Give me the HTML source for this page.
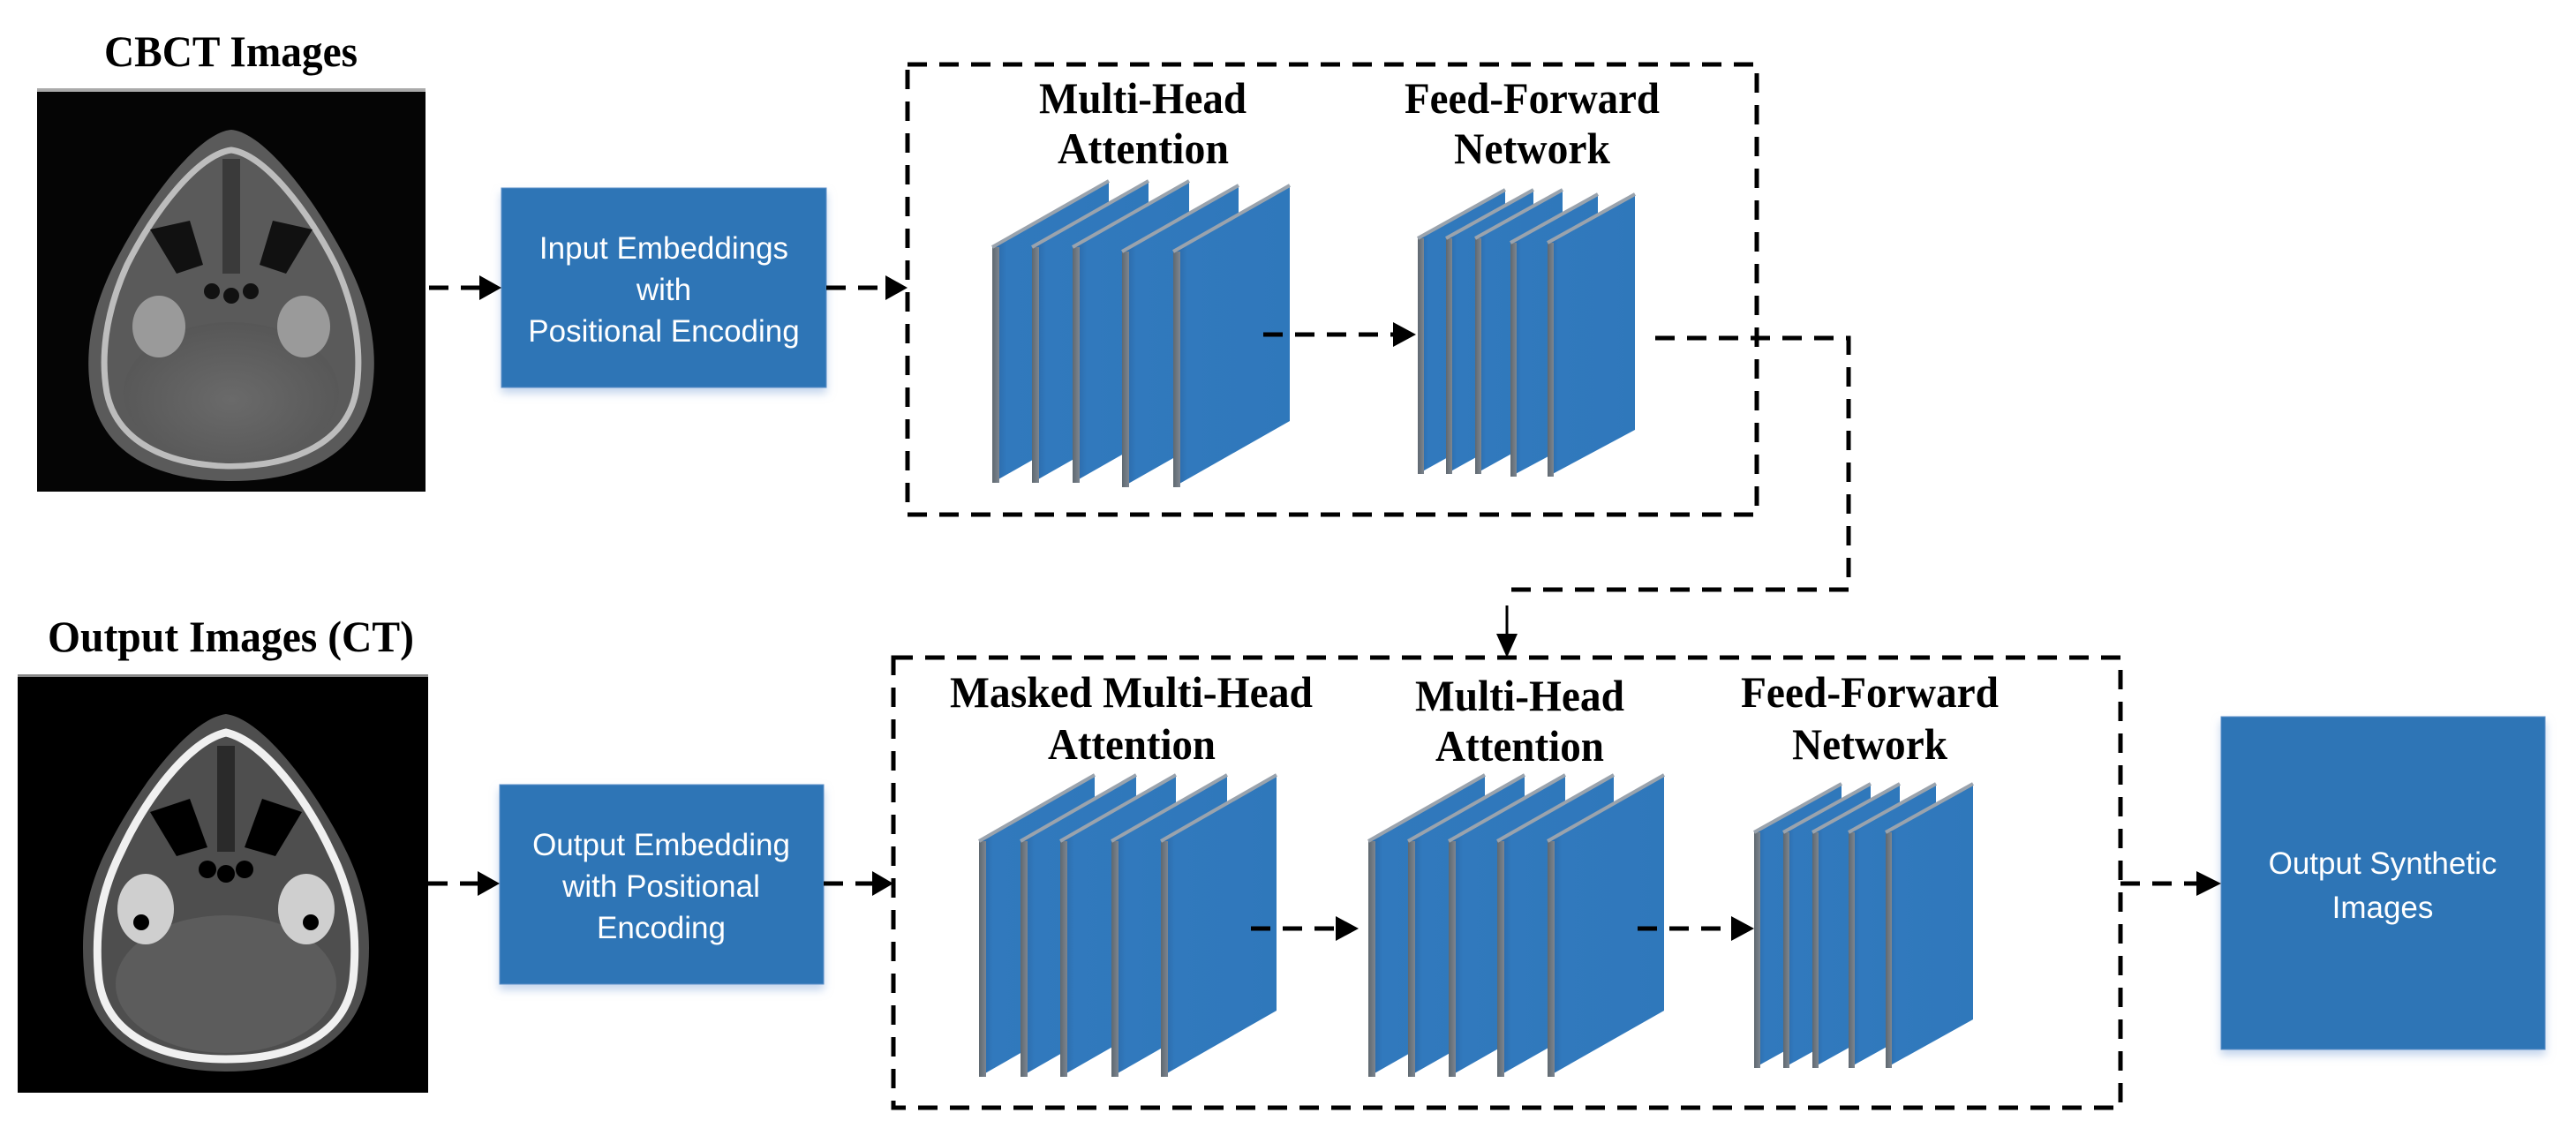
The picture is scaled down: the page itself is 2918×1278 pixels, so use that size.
<!DOCTYPE html>
<html><head><meta charset="utf-8"><style>
html,body{margin:0;padding:0;background:#fff;}
svg{display:block;}
.t{font-family:"Liberation Serif",serif;font-weight:bold;font-size:50px;fill:#000;}
.w{font-family:"Liberation Sans",sans-serif;font-size:35px;fill:#fff;text-anchor:middle;}
.d{stroke:#000;stroke-width:5;fill:none;stroke-dasharray:22 14;}
</style></head><body>
<svg width="2918" height="1278" viewBox="0 0 2918 1278" xmlns="http://www.w3.org/2000/svg">
<defs>
<linearGradient id="face" x1="0" y1="0" x2="1" y2="0">
<stop offset="0" stop-color="#2a64a0"/><stop offset="0.12" stop-color="#3179bd"/><stop offset="1" stop-color="#2f78bb"/>
</linearGradient>
<linearGradient id="edge" x1="0" y1="0" x2="1" y2="0">
<stop offset="0" stop-color="#5f6870"/><stop offset="1" stop-color="#7d8690"/>
</linearGradient>
<filter id="sh" x="-10%" y="-10%" width="120%" height="130%"><feDropShadow dx="0" dy="6" stdDeviation="5" flood-color="#9bb8e0" flood-opacity="0.6"/></filter>
<radialGradient id="brain" cx="0.5" cy="0.55" r="0.6"><stop offset="0" stop-color="#6a6a6a"/><stop offset="1" stop-color="#555"/></radialGradient>
</defs>

<!-- Titles -->
<text class="t" x="118" y="75" textLength="287" lengthAdjust="spacingAndGlyphs">CBCT Images</text>
<text class="t" x="54" y="738" textLength="415" lengthAdjust="spacingAndGlyphs">Output Images (CT)</text>

<!-- CBCT image -->
<rect x="42" y="100" width="440" height="457" fill="#050505"/>
<rect x="42" y="100" width="440" height="4" fill="#aaa"/>
<g>
<path d="M262,147 C300,150 360,230 395,300 C425,360 428,410 420,450 C405,515 345,545 262,545 C179,545 119,515 104,450 C96,410 99,360 129,300 C164,230 224,150 262,147z" fill="#5a5a5a"/>
<path d="M262,170 C300,175 350,240 380,300 C405,355 410,405 403,445 C392,500 335,528 262,528 C189,528 132,500 121,445 C114,405 119,355 144,300 C174,240 224,175 262,170z" fill="none" stroke="#bdbdbd" stroke-width="7"/>
<ellipse cx="262" cy="445" rx="122" ry="80" fill="url(#brain)"/>
<path d="M170,260 L215,250 L230,300 L200,310z" fill="#111"/>
<path d="M354,260 L309,250 L294,300 L324,310z" fill="#111"/>
<rect x="252" y="180" width="20" height="130" fill="#3a3a3a"/>
<circle cx="240" cy="330" r="9" fill="#111"/><circle cx="262" cy="335" r="9" fill="#111"/><circle cx="284" cy="330" r="9" fill="#111"/>
<ellipse cx="180" cy="370" rx="30" ry="35" fill="#9a9a9a"/><ellipse cx="344" cy="370" rx="30" ry="35" fill="#9a9a9a"/>
</g>

<!-- CT image -->
<rect x="20" y="764" width="465" height="474" fill="#000"/>
<rect x="20" y="764" width="465" height="3" fill="#888"/>
<g>
<path d="M256,809 C300,815 360,900 390,960 C418,1015 422,1065 415,1115 C402,1180 340,1214 256,1214 C172,1214 110,1180 97,1115 C90,1065 94,1015 122,960 C152,900 212,815 256,809z" fill="#4e4e4e"/>
<path d="M256,830 C300,840 350,910 375,965 C400,1015 405,1060 400,1110 C392,1170 335,1200 256,1200 C177,1200 120,1170 112,1110 C107,1060 112,1015 137,965 C162,910 212,840 256,830z" fill="none" stroke="#f0f0f0" stroke-width="9"/>
<ellipse cx="256" cy="1115" rx="125" ry="78" fill="#5c5c5c"/>
<path d="M170,920 L215,905 L235,960 L200,970z" fill="#000"/>
<path d="M342,920 L297,905 L277,960 L312,970z" fill="#000"/>
<rect x="246" y="845" width="20" height="120" fill="#2a2a2a"/>
<circle cx="235" cy="985" r="10" fill="#000"/><circle cx="256" cy="990" r="10" fill="#000"/><circle cx="277" cy="985" r="10" fill="#000"/>
<ellipse cx="165" cy="1030" rx="32" ry="40" fill="#cfcfcf"/><ellipse cx="347" cy="1030" rx="32" ry="40" fill="#cfcfcf"/>
<circle cx="160" cy="1045" r="9" fill="#000"/><circle cx="352" cy="1045" r="9" fill="#000"/>
</g>

<!-- Blue boxes -->
<g filter="url(#sh)">
<rect x="568" y="213" width="368" height="226" fill="#2e75b6" stroke="#5b8fc8" stroke-width="1"/>
<rect x="566" y="889" width="367" height="226" fill="#2e75b6" stroke="#5b8fc8" stroke-width="1"/>
<rect x="2516" y="812" width="367" height="377" fill="#2e75b6" stroke="#5b8fc8" stroke-width="1"/>
</g>
<text class="w" x="752" y="293">Input Embeddings</text>
<text class="w" x="752" y="340">with</text>
<text class="w" x="752" y="387">Positional Encoding</text>
<text class="w" x="749" y="969">Output Embedding</text>
<text class="w" x="749" y="1016">with Positional</text>
<text class="w" x="749" y="1063">Encoding</text>
<text class="w" x="2699" y="990">Output Synthetic</text>
<text class="w" x="2699" y="1040">Images</text>

<!-- Dashed containers -->
<rect class="d" x="1028" y="73" width="962" height="510"/>
<rect class="d" x="1012" y="745" width="1390" height="510"/>

<!-- Labels -->
<text class="t" x="1177" y="128" textLength="235" lengthAdjust="spacingAndGlyphs">Multi-Head</text>
<text class="t" x="1198" y="185" textLength="194" lengthAdjust="spacingAndGlyphs">Attention</text>
<text class="t" x="1591" y="128" textLength="289" lengthAdjust="spacingAndGlyphs">Feed-Forward</text>
<text class="t" x="1647" y="185" textLength="177" lengthAdjust="spacingAndGlyphs">Network</text>
<text class="t" x="1076" y="801" textLength="411" lengthAdjust="spacingAndGlyphs">Masked Multi-Head</text>
<text class="t" x="1187" y="860" textLength="190" lengthAdjust="spacingAndGlyphs">Attention</text>
<text class="t" x="1603" y="805" textLength="237" lengthAdjust="spacingAndGlyphs">Multi-Head</text>
<text class="t" x="1626" y="862" textLength="191" lengthAdjust="spacingAndGlyphs">Attention</text>
<text class="t" x="1972" y="801" textLength="292" lengthAdjust="spacingAndGlyphs">Feed-Forward</text>
<text class="t" x="2030" y="860" textLength="176" lengthAdjust="spacingAndGlyphs">Network</text>

<!-- Panels -->
<g>
<polygon points="1124,280 1256,205 1256,472 1124,547" fill="url(#face)"/><polygon points="1124,280 1132,280 1132,547 1124,547" fill="url(#edge)"/><polyline points="1124,280 1256,205" stroke="#9aa3ad" stroke-width="4" fill="none"/>
<polygon points="1169,280 1301,205 1301,472 1169,547" fill="url(#face)"/><polygon points="1169,280 1177,280 1177,547 1169,547" fill="url(#edge)"/><polyline points="1169,280 1301,205" stroke="#9aa3ad" stroke-width="4" fill="none"/>
<polygon points="1215,280 1347,205 1347,472 1215,547" fill="url(#face)"/><polygon points="1215,280 1223,280 1223,547 1215,547" fill="url(#edge)"/><polyline points="1215,280 1347,205" stroke="#9aa3ad" stroke-width="4" fill="none"/>
<polygon points="1271,285 1403,210 1403,477 1271,552" fill="url(#face)"/><polygon points="1271,285 1279,285 1279,552 1271,552" fill="url(#edge)"/><polyline points="1271,285 1403,210" stroke="#9aa3ad" stroke-width="4" fill="none"/>
<polygon points="1329,285 1461,210 1461,477 1329,552" fill="url(#face)"/><polygon points="1329,285 1337,285 1337,552 1329,552" fill="url(#edge)"/><polyline points="1329,285 1461,210" stroke="#9aa3ad" stroke-width="4" fill="none"/>
</g>
<g>
<polygon points="1606,270 1705,215 1705,482 1606,537" fill="url(#face)"/><polygon points="1606,270 1613,270 1613,537 1606,537" fill="url(#edge)"/><polyline points="1606,270 1705,215" stroke="#9aa3ad" stroke-width="4" fill="none"/>
<polygon points="1638,270 1737,215 1737,482 1638,537" fill="url(#face)"/><polygon points="1638,270 1645,270 1645,537 1638,537" fill="url(#edge)"/><polyline points="1638,270 1737,215" stroke="#9aa3ad" stroke-width="4" fill="none"/>
<polygon points="1671,270 1770,215 1770,482 1671,537" fill="url(#face)"/><polygon points="1671,270 1678,270 1678,537 1671,537" fill="url(#edge)"/><polyline points="1671,270 1770,215" stroke="#9aa3ad" stroke-width="4" fill="none"/>
<polygon points="1711,275 1810,220 1810,487 1711,540" fill="url(#face)"/><polygon points="1711,275 1718,275 1718,540 1711,540" fill="url(#edge)"/><polyline points="1711,275 1810,220" stroke="#9aa3ad" stroke-width="4" fill="none"/>
<polygon points="1753,275 1852,220 1852,487 1753,540" fill="url(#face)"/><polygon points="1753,275 1760,275 1760,540 1753,540" fill="url(#edge)"/><polyline points="1753,275 1852,220" stroke="#9aa3ad" stroke-width="4" fill="none"/>
</g>
<g>
<polygon points="1109,953 1240,878 1240,1145 1109,1220" fill="url(#face)"/><polygon points="1109,953 1117,953 1117,1220 1109,1220" fill="url(#edge)"/><polyline points="1109,953 1240,878" stroke="#9aa3ad" stroke-width="4" fill="none"/>
<polygon points="1156,953 1287,878 1287,1145 1156,1220" fill="url(#face)"/><polygon points="1156,953 1164,953 1164,1220 1156,1220" fill="url(#edge)"/><polyline points="1156,953 1287,878" stroke="#9aa3ad" stroke-width="4" fill="none"/>
<polygon points="1201,953 1332,878 1332,1145 1201,1220" fill="url(#face)"/><polygon points="1201,953 1209,953 1209,1220 1201,1220" fill="url(#edge)"/><polyline points="1201,953 1332,878" stroke="#9aa3ad" stroke-width="4" fill="none"/>
<polygon points="1259,953 1390,878 1390,1145 1259,1220" fill="url(#face)"/><polygon points="1259,953 1267,953 1267,1220 1259,1220" fill="url(#edge)"/><polyline points="1259,953 1390,878" stroke="#9aa3ad" stroke-width="4" fill="none"/>
<polygon points="1315,953 1446,878 1446,1145 1315,1220" fill="url(#face)"/><polygon points="1315,953 1323,953 1323,1220 1315,1220" fill="url(#edge)"/><polyline points="1315,953 1446,878" stroke="#9aa3ad" stroke-width="4" fill="none"/>
</g>
<g>
<polygon points="1550,953 1682,878 1682,1145 1550,1220" fill="url(#face)"/><polygon points="1550,953 1558,953 1558,1220 1550,1220" fill="url(#edge)"/><polyline points="1550,953 1682,878" stroke="#9aa3ad" stroke-width="4" fill="none"/>
<polygon points="1595,953 1727,878 1727,1145 1595,1220" fill="url(#face)"/><polygon points="1595,953 1603,953 1603,1220 1595,1220" fill="url(#edge)"/><polyline points="1595,953 1727,878" stroke="#9aa3ad" stroke-width="4" fill="none"/>
<polygon points="1641,953 1773,878 1773,1145 1641,1220" fill="url(#face)"/><polygon points="1641,953 1649,953 1649,1220 1641,1220" fill="url(#edge)"/><polyline points="1641,953 1773,878" stroke="#9aa3ad" stroke-width="4" fill="none"/>
<polygon points="1696,953 1828,878 1828,1145 1696,1220" fill="url(#face)"/><polygon points="1696,953 1704,953 1704,1220 1696,1220" fill="url(#edge)"/><polyline points="1696,953 1828,878" stroke="#9aa3ad" stroke-width="4" fill="none"/>
<polygon points="1753,953 1885,878 1885,1145 1753,1220" fill="url(#face)"/><polygon points="1753,953 1761,953 1761,1220 1753,1220" fill="url(#edge)"/><polyline points="1753,953 1885,878" stroke="#9aa3ad" stroke-width="4" fill="none"/>
</g>
<g>
<polygon points="1987,943 2086,888 2086,1155 1987,1210" fill="url(#face)"/><polygon points="1987,943 1994,943 1994,1210 1987,1210" fill="url(#edge)"/><polyline points="1987,943 2086,888" stroke="#9aa3ad" stroke-width="4" fill="none"/>
<polygon points="2020,943 2119,888 2119,1155 2020,1210" fill="url(#face)"/><polygon points="2020,943 2027,943 2027,1210 2020,1210" fill="url(#edge)"/><polyline points="2020,943 2119,888" stroke="#9aa3ad" stroke-width="4" fill="none"/>
<polygon points="2053,943 2152,888 2152,1155 2053,1210" fill="url(#face)"/><polygon points="2053,943 2060,943 2060,1210 2053,1210" fill="url(#edge)"/><polyline points="2053,943 2152,888" stroke="#9aa3ad" stroke-width="4" fill="none"/>
<polygon points="2094,943 2193,888 2193,1155 2094,1210" fill="url(#face)"/><polygon points="2094,943 2101,943 2101,1210 2094,1210" fill="url(#edge)"/><polyline points="2094,943 2193,888" stroke="#9aa3ad" stroke-width="4" fill="none"/>
<polygon points="2136,943 2235,888 2235,1155 2136,1210" fill="url(#face)"/><polygon points="2136,943 2143,943 2143,1210 2136,1210" fill="url(#edge)"/><polyline points="2136,943 2235,888" stroke="#9aa3ad" stroke-width="4" fill="none"/>
</g>

<!-- Connectors -->
<g>
<line class="d" x1="486" y1="326" x2="545" y2="326"/><path d="M543,312 L568,326 L543,340z"/>
<line class="d" x1="936" y1="326" x2="1005" y2="326"/><path d="M1003,312 L1028,326 L1003,340z"/>
<line class="d" x1="1431" y1="379" x2="1580" y2="379"/><path d="M1578,365 L1604,379 L1578,393z"/>
<polyline class="d" points="1875,383 2094,383 2094,668 1705,668"/>
<line x1="1707" y1="686" x2="1707" y2="720" stroke="#000" stroke-width="3"/><path d="M1695,718 L1707,745 L1719,718z"/>
<line class="d" x1="485" y1="1001" x2="543" y2="1001"/><path d="M541,987 L566,1001 L541,1015z"/>
<line class="d" x1="933" y1="1001" x2="990" y2="1001"/><path d="M988,987 L1012,1001 L988,1015z"/>
<line class="d" x1="1417" y1="1052" x2="1515" y2="1052"/><path d="M1513,1038 L1539,1052 L1513,1066z"/>
<line class="d" x1="1855" y1="1052" x2="1963" y2="1052"/><path d="M1961,1038 L1987,1052 L1961,1066z"/>
<line class="d" x1="2402" y1="1001" x2="2490" y2="1001"/><path d="M2488,987 L2516,1001 L2488,1015z"/>
</g>
</svg>
</body></html>
